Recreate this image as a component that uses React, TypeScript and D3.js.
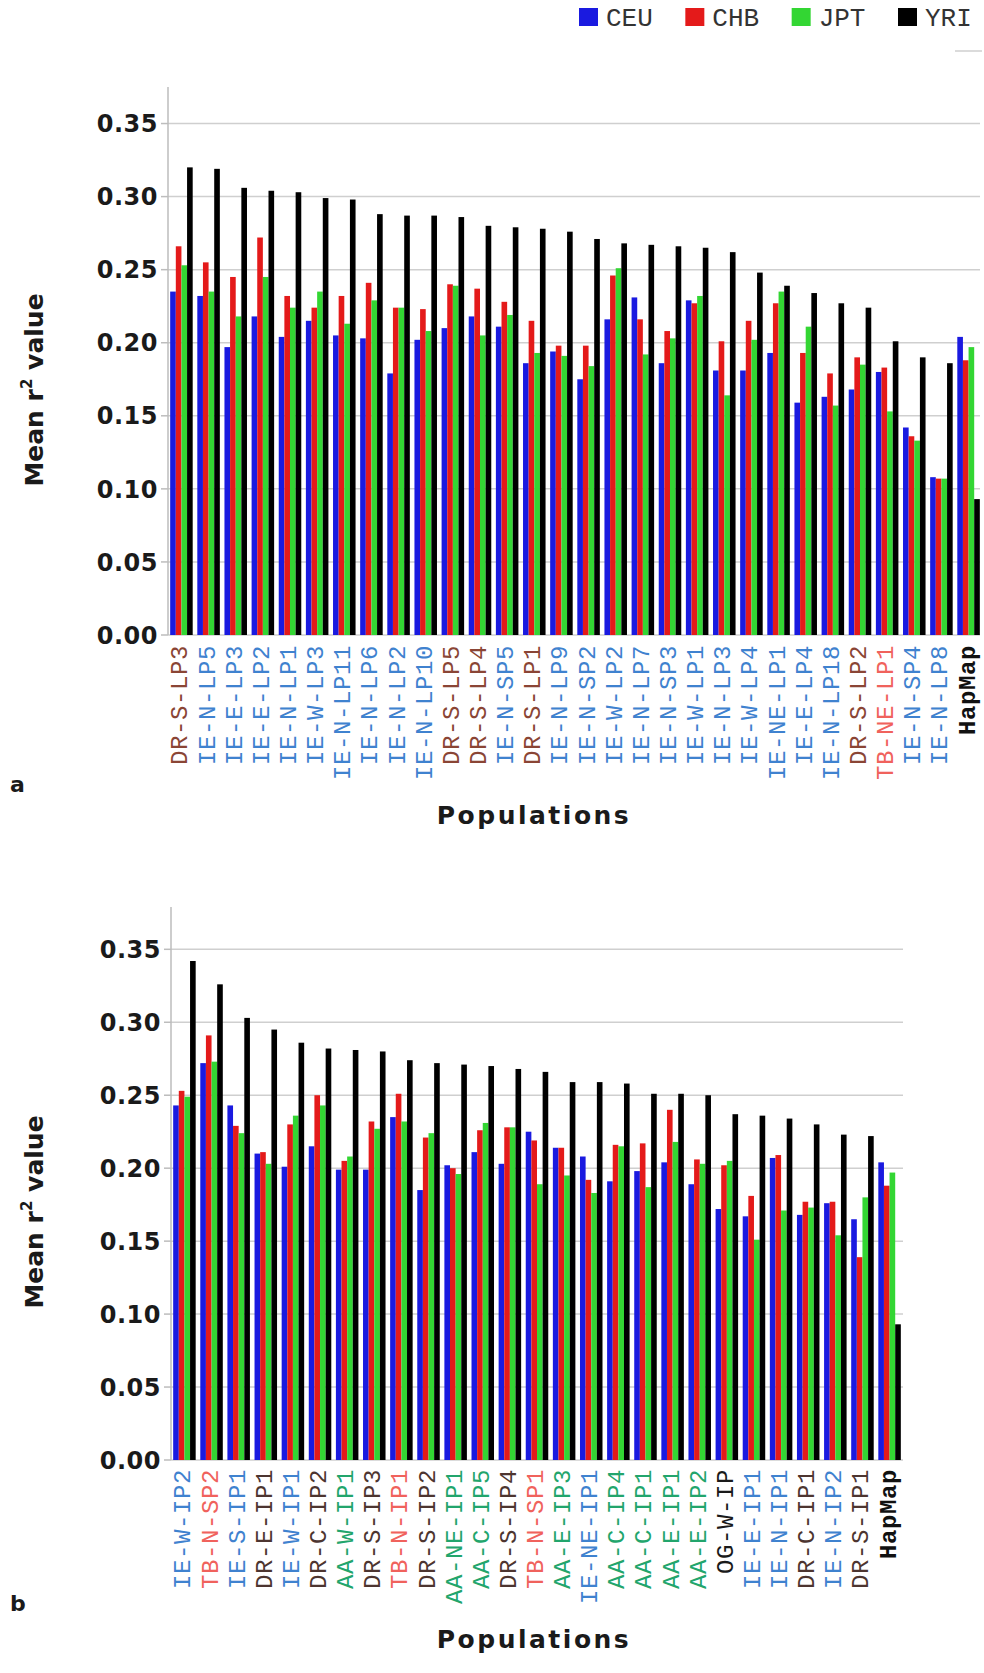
import * as d3 from 'd3';

const series = ['CEU', 'CHB', 'JPT', 'YRI'];
const seriesColors = ['#1a1ae0', '#e41a1a', '#33d633', '#000000'];

// panel a
const popsA = [
  'DR-S-LP3', 'IE-N-LP5', 'IE-E-LP3', 'IE-E-LP2', 'IE-N-LP1', 'IE-W-LP3', 'IE-N-LP11', 'IE-N-LP6',
  'IE-N-LP2', 'IE-N-LP10', 'DR-S-LP5', 'DR-S-LP4', 'IE-N-SP5', 'DR-S-LP1', 'IE-N-LP9', 'IE-N-SP2',
  'IE-W-LP2', 'IE-N-LP7', 'IE-N-SP3', 'IE-W-LP1', 'IE-N-LP3', 'IE-W-LP4', 'IE-NE-LP1', 'IE-E-LP4',
  'IE-N-LP18', 'DR-S-LP2', 'TB-NE-LP1', 'IE-N-SP4', 'IE-N-LP8', 'HapMap',
];
const ceuA = [0.235, 0.232, 0.197, 0.218, 0.204, 0.215, 0.205, 0.203, 0.179, 0.202, 0.210, 0.218, 0.211, 0.186, 0.194,
  0.175, 0.216, 0.231, 0.186, 0.229, 0.181, 0.181, 0.193, 0.159, 0.163, 0.168, 0.180, 0.142, 0.108, 0.204];
const chbA = [0.266, 0.255, 0.245, 0.272, 0.232, 0.224, 0.232, 0.241, 0.224, 0.223, 0.240, 0.237, 0.228, 0.215, 0.198,
  0.198, 0.246, 0.216, 0.208, 0.227, 0.201, 0.215, 0.227, 0.193, 0.179, 0.190, 0.183, 0.136, 0.107, 0.188];
const jptA = [0.253, 0.235, 0.218, 0.245, 0.224, 0.235, 0.213, 0.229, 0.224, 0.208, 0.239, 0.205, 0.219, 0.193, 0.191,
  0.184, 0.251, 0.192, 0.203, 0.232, 0.164, 0.202, 0.235, 0.211, 0.157, 0.185, 0.153, 0.133, 0.107, 0.197];
const yriA = [0.320, 0.319, 0.306, 0.304, 0.303, 0.299, 0.298, 0.288, 0.287, 0.287, 0.286, 0.280, 0.279, 0.278, 0.276,
  0.271, 0.268, 0.267, 0.266, 0.265, 0.262, 0.248, 0.239, 0.234, 0.227, 0.224, 0.201, 0.190, 0.186, 0.093];

// panel b
const popsB = [
  'IE-W-IP2', 'TB-N-SP2', 'IE-S-IP1', 'DR-E-IP1', 'IE-W-IP1', 'DR-C-IP2', 'AA-W-IP1', 'DR-S-IP3',
  'TB-N-IP1', 'DR-S-IP2', 'AA-NE-IP1', 'AA-C-IP5', 'DR-S-IP4', 'TB-N-SP1', 'AA-E-IP3', 'IE-NE-IP1',
  'AA-C-IP4', 'AA-C-IP1', 'AA-E-IP1', 'AA-E-IP2', 'OG-W-IP', 'IE-E-IP1', 'IE-N-IP1', 'DR-C-IP1',
  'IE-N-IP2', 'DR-S-IP1', 'HapMap',
];
const ceuB = [0.243, 0.272, 0.243, 0.210, 0.201, 0.215, 0.199, 0.199, 0.235, 0.185, 0.202, 0.211, 0.203, 0.225,
  0.214, 0.208, 0.191, 0.198, 0.204, 0.189, 0.172, 0.167, 0.207, 0.168, 0.176, 0.165, 0.204];
const chbB = [0.253, 0.291, 0.229, 0.211, 0.230, 0.250, 0.205, 0.232, 0.251, 0.221, 0.200, 0.226, 0.228, 0.219,
  0.214, 0.192, 0.216, 0.217, 0.240, 0.206, 0.202, 0.181, 0.209, 0.177, 0.177, 0.139, 0.188];
const jptB = [0.249, 0.273, 0.224, 0.203, 0.236, 0.243, 0.208, 0.227, 0.232, 0.224, 0.196, 0.231, 0.228, 0.189,
  0.195, 0.183, 0.215, 0.187, 0.218, 0.203, 0.205, 0.151, 0.171, 0.173, 0.154, 0.180, 0.197];
const yriB = [0.342, 0.326, 0.303, 0.295, 0.286, 0.282, 0.281, 0.280, 0.274, 0.272, 0.271, 0.270, 0.268, 0.266,
  0.259, 0.259, 0.258, 0.251, 0.251, 0.250, 0.237, 0.236, 0.234, 0.230, 0.223, 0.222, 0.093];

const sans = '"DejaVu Sans", Verdana, sans-serif';
const mono = '"Courier New", "Liberation Mono", monospace';

function labelColor(name: string, drColor: string) {
  if (name === 'HapMap') return '#111111';
  if (name.startsWith('IE')) return '#3f82cf';
  if (name.startsWith('TB')) return '#f0625c';
  if (name.startsWith('AA')) return '#22a56c';
  if (name.startsWith('DR')) return drColor;
  return '#1a1a1a';
}

type PanelProps = {
  pops: string[];
  values: number[][];
  top: number;
  zero: number;
  left: number;
  right: number;
  gridRight: number;
  yMax: number;
  labelTop: number;
  yTitleY: number;
  letter: string;
  letterY: number;
  titleY: number;
  drColor: string;
};

function Panel(p: PanelProps) {
  const x0 = d3.scaleBand().domain(p.pops).range([p.left, p.right]).paddingInner(0.17).paddingOuter(0.08);
  const x1 = d3.scaleBand().domain(series).range([0, x0.bandwidth()]);
  const y = d3.scaleLinear().domain([0, p.yMax]).range([p.zero, p.top]);
  const ticks = y.ticks(8);
  const fmt = d3.format('.2f');

  return (
    <g>
      {ticks.map((t) => (
        <g key={t}>
          <line x1={p.left} x2={p.gridRight} y1={y(t)} y2={y(t)} stroke="#cfcfcf" strokeWidth={1.5} />
          <line x1={p.left - 7} x2={p.left} y1={y(t)} y2={y(t)} stroke="#bdbdbd" strokeWidth={1.5} />
          <text x={p.left - 10} y={y(t)} dy="0.36em" textAnchor="end" fontFamily={sans} fontWeight="bold"
            fontSize={24} letterSpacing={0.5} fill="#1a1a1a">{fmt(t)}</text>
        </g>
      ))}
      <line x1={p.left} x2={p.left} y1={p.top} y2={p.zero} stroke="#bdbdbd" strokeWidth={1.5} />

      {p.pops.map((pop, i) => (
        <g key={pop} transform={`translate(${x0(pop)},0)`}>
          {series.map((s, j) => {
            const v = p.values[j][i];
            return (
              <rect key={s} x={x1(s)} y={y(v)} width={x1.bandwidth()} height={p.zero - y(v)} fill={seriesColors[j]} />
            );
          })}
        </g>
      ))}

      {p.pops.map((pop) => {
        const cx = (x0(pop) as number) + x0.bandwidth() / 2 + 6;
        return (
          <text key={pop} transform={`translate(${cx},${p.labelTop}) rotate(-90)`} textAnchor="end"
            fontFamily={mono} fontSize={24} letterSpacing={0.6} fontWeight={pop === 'HapMap' ? 'bold' : 'normal'}
            fill={labelColor(pop, p.drColor)}>{pop}</text>
        );
      })}

      <text transform={`translate(43,${p.yTitleY}) rotate(-90)`} textAnchor="middle" fontFamily={sans}
        fontWeight="bold" fontSize={25} fill="#1a1a1a">
        Mean r<tspan fontSize={15} dy={-11}>2</tspan><tspan dy={11}> value</tspan>
      </text>
      <text x={10} y={p.letterY} fontFamily={sans} fontWeight="bold" fontSize={22} fill="#1a1a1a">{p.letter}</text>
      <text x={534} y={p.titleY} textAnchor="middle" fontFamily={sans} fontWeight="bold" fontSize={25}
        letterSpacing={2.5} fill="#1a1a1a">Populations</text>
    </g>
  );
}

export default function App() {
  const legendX = d3.scaleLinear().domain([0, 3]).range([579, 898]);
  return (
    <div style={{ position: 'absolute', left: 0, top: 0, background: '#fff' }}>
      <svg width={984} height={1673} viewBox="0 0 984 1673" style={{ display: 'block' }}>
        <rect width={984} height={1673} fill="#fff" />
        {series.map((s, i) => (
          <g key={s}>
            <rect x={legendX(i)} y={8} width={19} height={18} fill={seriesColors[i]} />
            <text x={legendX(i) + 27} y={26} fontFamily={mono} fontSize={26} fill="#333">{s}</text>
          </g>
        ))}
        <line x1={955} x2={982} y1={51} y2={51} stroke="#cfcfcf" strokeWidth={1.5} />

        <Panel pops={popsA} values={[ceuA, chbA, jptA, yriA]} top={87} zero={635} left={168} right={982}
          gridRight={980} yMax={0.375} labelTop={645} yTitleY={390} letter="a" letterY={792} titleY={824}
          drColor="#8a4535" />
        <Panel pops={popsB} values={[ceuB, chbB, jptB, yriB]} top={907} zero={1460} left={171} right={903}
          gridRight={903} yMax={0.379} labelTop={1469} yTitleY={1212} letter="b" letterY={1611} titleY={1648}
          drColor="#4d3530" />
      </svg>
    </div>
  );
}
